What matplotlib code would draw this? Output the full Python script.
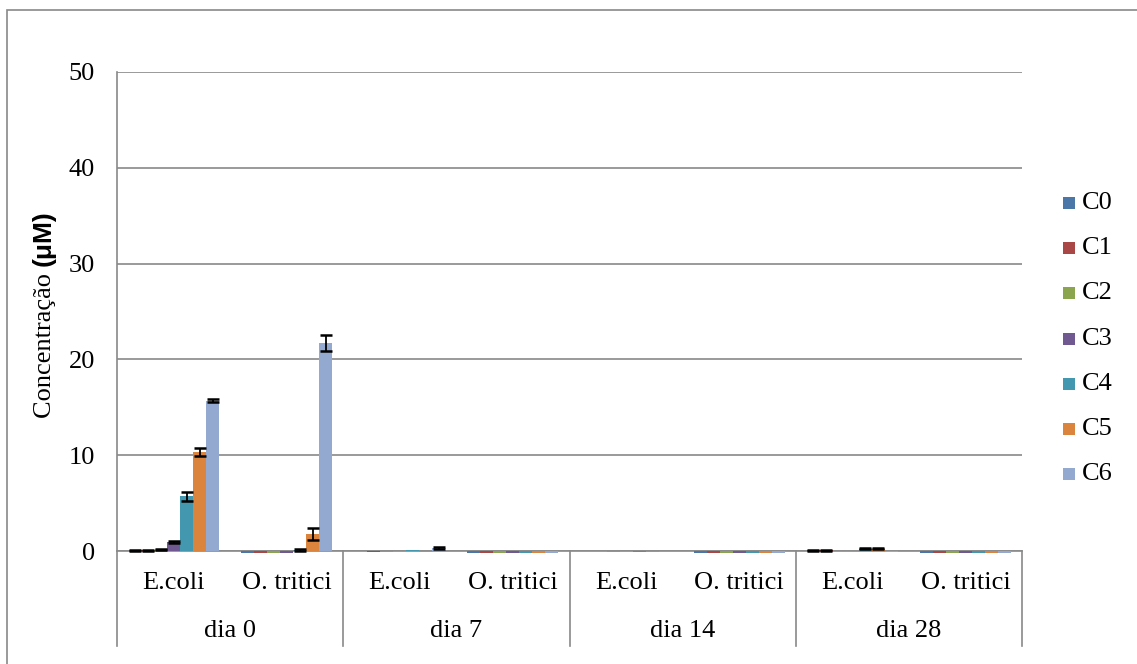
import matplotlib
matplotlib.use("Agg")
import matplotlib.pyplot as plt
import matplotlib.transforms as mtransforms
from matplotlib.patches import Rectangle
import numpy as np

# Category structure (day -> strain)
days = ["dia 0", "dia 7", "dia 14", "dia 28"]
strains = ["E.coli", "O. tritici"]
series = ["C0", "C1", "C2", "C3", "C4", "C5", "C6"]

# Mean concentrations (µM) per group: dia0 E.coli, dia0 O.tritici, dia7 ..., dia28 O.tritici
c0 = [0.05, -0.25, 0.00, -0.25, 0.00, -0.2, 0.08, -0.25]
c1 = [0.10, -0.25, -0.12, -0.25, -0.03, -0.2, 0.08, -0.25]
c2 = [0.12, -0.25, -0.12, -0.25, -0.12, -0.2, 0.03, -0.25]
c3 = [0.95, -0.25, 0.00, -0.25, 0.00, -0.2, 0.03, -0.25]
c4 = [5.70, 0.15, 0.15, -0.25, -0.12, -0.2, 0.25, -0.25]
c5 = [10.35, 1.80, -0.15, -0.25, -0.12, -0.2, 0.25, -0.25]
c6 = [15.70, 21.70, 0.30, -0.25, 0.00, -0.2, -0.15, -0.25]

# Standard deviations
e0 = [0.05, 0, 0, 0, 0, 0, 0.03, 0]
e1 = [0.05, 0, 0, 0, 0, 0, 0.03, 0]
e2 = [0.05, 0, 0, 0, 0, 0, 0, 0]
e3 = [0.12, 0, 0, 0, 0, 0, 0, 0]
e4 = [0.50, 0.10, 0, 0, 0, 0, 0.08, 0]
e5 = [0.40, 0.60, 0, 0, 0, 0, 0.08, 0]
e6 = [0.12, 0.85, 0.12, 0, 0, 0, 0, 0]

values = [c0, c1, c2, c3, c4, c5, c6]
errors = [e0, e1, e2, e3, e4, e5, e6]
colors = ["#4A76A8", "#A84745", "#8AA54E", "#705891", "#4398AF", "#DB843D", "#93A9CF"]

plt.rcParams["font.family"] = ["Liberation Serif", "DejaVu Serif"]
W, H = 1137, 664
fig = plt.figure(figsize=(W / 100, H / 100), dpi=100)

# plot area in pixels
x0, x1, ytop, ybot = 117, 1022, 72, 551
ax = fig.add_axes([x0 / W, 1 - ybot / H, (x1 - x0) / W, (ybot - ytop) / H])

grid_c = "#898989"
n_groups = len(days) * len(strains)
xg = np.arange(n_groups)
bw = 0.115

for j, (vals, errs) in enumerate(zip(values, errors)):
    xs = xg + (j - 3) * bw
    v = np.asarray(vals)
    e = np.asarray(errs)
    ax.bar(xs, v, width=bw, color=colors[j], zorder=3, clip_on=False, label=series[j])
    m = e > 0
    if m.any():
        ax.errorbar(xs[m], v[m], yerr=e[m], fmt="none", ecolor="black", elinewidth=1.3,
                    capsize=4.6, capthick=1.8, zorder=4, clip_on=False)

ax.set_xlim(-0.5, n_groups - 0.5)
ax.set_ylim(0, 50)
ax.set_yticks(range(0, 51, 10))
ax.yaxis.grid(True, color=grid_c, linewidth=1.2, zorder=0)
ax.set_axisbelow(True)
ax.tick_params(axis="y", length=0, labelsize=19, pad=16)
ax.set_xticks([])
for s in ["top", "right"]:
    ax.spines[s].set_visible(False)
for s in ["left", "bottom"]:
    ax.spines[s].set_color(grid_c)
    ax.spines[s].set_linewidth(1.2)
ax.spines["bottom"].set_zorder(2.5)

# multi-level category axis
trans = mtransforms.blended_transform_factory(ax.transData, ax.transAxes)
px = 1.0 / (ybot - ytop)
for i in range(n_groups):
    ax.text(xg[i], -(583 - ybot) * px, strains[i % 2], transform=trans,
            ha="center", va="center", fontsize=19)
for d, name in enumerate(days):
    ax.text(2 * d + 0.5, -(631 - ybot) * px, name, transform=trans,
            ha="center", va="center", fontsize=19)
for b in np.arange(-0.5, n_groups, 2):
    ax.plot([b, b], [0, -(646 - ybot) * px], transform=trans, color=grid_c,
            linewidth=1.2, clip_on=False)

# y-axis title: serif word plus bold sans unit
t1 = fig.text(45 / W, 1 - 418 / H, "Concentração ", rotation=90, ha="center", va="bottom",
              fontsize=19)
fig.canvas.draw()
bb = t1.get_window_extent(fig.canvas.get_renderer())
fig.text(44 / W, bb.y1 / H, "(μM)", rotation=90, ha="center", va="bottom",
         fontsize=19, fontweight="bold", family=["Liberation Sans", "DejaVu Sans"])

# legend
rows = [203, 248, 293, 339, 384, 429, 474]
for j, name in enumerate(series):
    fig.patches.append(Rectangle((1063 / W, 1 - (rows[j] + 6) / H), 12 / W, 12 / H,
                                 transform=fig.transFigure, facecolor=colors[j],
                                 edgecolor="none"))
    fig.text(1082 / W, 1 - rows[j] / H, name, ha="left", va="center", fontsize=19)

# chart frame
fig.patches.append(Rectangle((7 / W, -0.05), 1.1, 1 - 10 / H + 0.05,
                             transform=fig.transFigure, facecolor="none",
                             edgecolor=grid_c, linewidth=1.2, clip_on=False))

fig.savefig("out.png", dpi=100)
